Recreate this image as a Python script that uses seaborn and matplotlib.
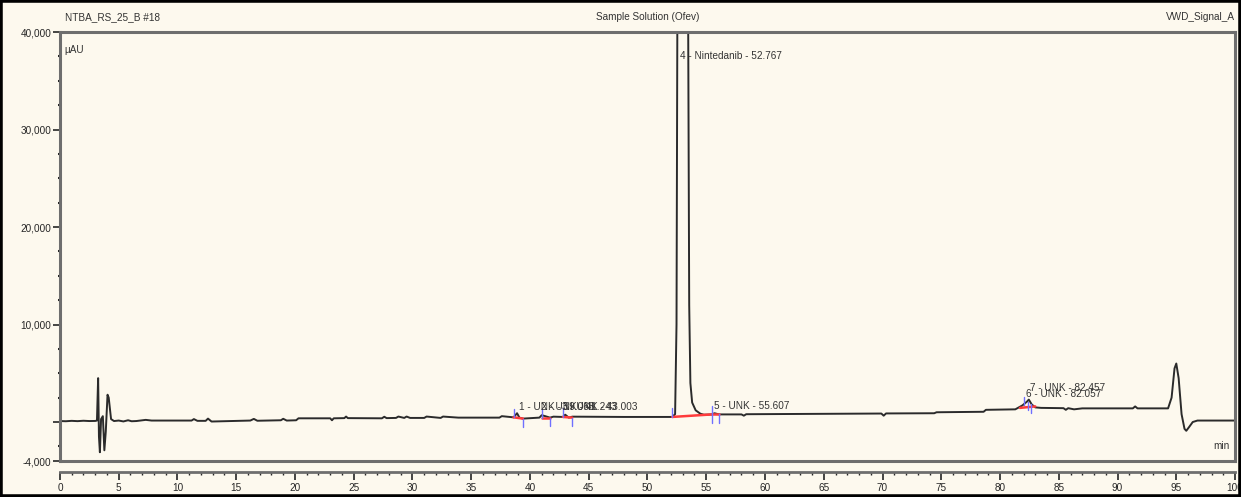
from __future__ import annotations

import matplotlib
matplotlib.use("Agg")
import numpy as np
import pandas as pd
import seaborn as sns
from matplotlib import pyplot as plt
from matplotlib.patches import Rectangle
from matplotlib.ticker import MultipleLocator


OUTPUT_PNG = "out.png"

# chromatogram trace (min, µAU)
TIME_MIN = [
    0.0, 0.5, 1.0, 1.5, 2.0, 2.5, 3.0, 3.15, 3.25, 3.32, 3.40, 3.50, 3.65, 3.78, 3.90,
    4.05, 4.15, 4.35, 4.6, 5.0, 5.4, 5.8, 6.1, 6.5, 7.3, 7.8, 9.0, 11.2, 11.4, 11.7,
    12.4, 12.6, 12.9, 16.2, 16.5, 16.8, 18.8, 19.0, 19.3, 20.1, 20.3, 23.0, 23.15, 23.3,
    24.2, 24.35, 24.5, 27.4, 27.6, 27.8, 28.6, 28.8, 29.3, 29.5, 29.8, 31.0, 31.2, 32.4,
    32.6, 33.9, 37.4, 37.6, 38.6, 38.9, 39.1, 39.4, 40.8, 41.0, 41.3, 41.7, 42.0, 42.8,
    43.0, 43.3, 43.6, 48.0, 52.1, 52.35, 52.47, 52.55, 52.62, 52.767, 53.0, 53.3, 53.45,
    53.55, 53.65, 53.8, 54.1, 54.5, 54.8, 55.5, 55.7, 56.1, 58.0, 58.2, 58.4, 62.0, 66.0,
    69.9, 70.1, 70.3, 74.4, 74.6, 78.6, 78.8, 81.3, 81.6, 81.9, 82.1, 82.3, 82.45, 82.7,
    83.0, 83.5, 85.4, 85.6, 85.8, 86.3, 87.0, 88.0, 91.3, 91.5, 91.7, 94.3, 94.6, 94.85,
    95.0, 95.2, 95.45, 95.7, 95.85, 96.1, 96.4, 96.8, 100.0,
]
SIGNAL_UAU = [
    100, 80, 120, 90, 130, 100, 110, 150, 4500, -1500, -3100, 300, 600, -2900, -1000,
    2800, 2500, 300, 100, 150, 60, 180, 80, 100, 220, 150, 150, 150, 300, 120,
    120, 350, 50, 150, 320, 130, 180, 330, 150, 180, 380, 380, 180, 380,
    400, 560, 400, 380, 540, 400, 420, 560, 420, 560, 420, 420, 560, 420,
    560, 450, 450, 600, 480, 900, 450, 350, 450, 700, 600, 450, 550, 520,
    750, 450, 550, 520, 520, 800, 10000, 45000, 90000, 120000, 90000, 45000, 45000,
    12000, 4000, 2000, 1200, 850, 750, 780, 900, 780, 780, 650, 800, 820, 850,
    870, 650, 880, 900, 1000, 1050, 1250, 1300, 1500, 1700, 1900, 2100, 2300, 1800,
    1500, 1450, 1420, 1250, 1420, 1300, 1400, 1400, 1400, 1600, 1400, 1400, 2500, 5500,
    6000, 4500, 800, -700, -900, -500, 0, 150, 150,
]

# peak labels
PEAK_LABELS = [
    "1 - UNK - 39.068", "2 - UNK - 41.243", "3 - UNK - 43.003", "4 - Nintedanib - 52.767",
    "5 - UNK - 55.607", "6 - UNK - 82.057", "7 - UNK - 82.457",
]
LABEL_TIME = [39.1, 40.9, 42.7, 52.8, 55.65, 82.2, 82.55]
LABEL_SIGNAL = [1500, 1500, 1500, 37500, 1600, 2900, 3500]

# integration baselines (red) and peak delimiters (blue)
BASE_START = [38.6, 41.0, 42.8, 52.1, 55.5, 81.7]
BASE_END = [39.4, 41.7, 43.6, 55.5, 56.1, 83.0]
BASE_START_Y = [480, 450, 520, 520, 780, 1450]
BASE_END_Y = [350, 450, 450, 780, 780, 1600]
DELIM_TIME = [38.6, 39.4, 41.0, 41.7, 42.8, 43.6, 52.1, 55.5, 55.5, 56.1, 82.0, 82.4, 82.6]
DELIM_Y = [480, 350, 450, 450, 520, 450, 520, 780, 780, 780, 1700, 2100, 1800]
DELIM_DIR = [1, -1, 1, -1, 1, -1, 1, 1, -1, -1, 1, -1, -1]

Y_TICKS = [-4000, 0, 10000, 20000, 30000, 40000]
Y_TICK_LABELS = ["-4,000", "", "10,000", "20,000", "30,000", "40,000"]
X_TICKS = list(range(0, 101, 5))


def draw_chromatogram(ax: plt.Axes) -> None:
    trace = pd.DataFrame({"time": TIME_MIN, "signal": SIGNAL_UAU})
    sns.lineplot(data=trace, x="time", y="signal", color="#2b2b2b", linewidth=1.4,
                 estimator=None, sort=False, ax=ax)

    for x0, x1, y0, y1 in zip(BASE_START, BASE_END, BASE_START_Y, BASE_END_Y):
        ax.plot([x0, x1], [y0, y1], color="#ff3b3b", linewidth=1.8, zorder=3)

    for t, y, d in zip(DELIM_TIME, DELIM_Y, DELIM_DIR):
        ax.plot([t, t], [y, y + d * 900], color="#7070ff", linewidth=1.0, zorder=4)

    for label, t, y in zip(PEAK_LABELS, LABEL_TIME, LABEL_SIGNAL):
        ax.text(t, y, label, fontsize=7.2, color="#333333", ha="left", va="center", zorder=5)


def style_axes(fig: plt.Figure, ax: plt.Axes) -> None:
    ax.set_xlim(0, 100)
    ax.set_ylim(-4000, 40000)
    ax.set_xlabel("")
    ax.set_ylabel("")
    ax.set_facecolor("#fdf9ee")

    for spine in ax.spines.values():
        spine.set_visible(True)
        spine.set_color("#6e6e6e")
        spine.set_linewidth(2.2)

    ax.set_yticks(Y_TICKS)
    ax.set_yticklabels(Y_TICK_LABELS)
    ax.yaxis.set_minor_locator(MultipleLocator(2500))
    ax.tick_params(axis="y", which="major", direction="out", length=5, width=1.2,
                   labelsize=7.2, pad=1, left=True)
    ax.tick_params(axis="y", which="minor", direction="out", length=1.5, width=1.5, left=True)
    ax.tick_params(axis="x", which="both", bottom=False, labelbottom=False)

    ruler = ax.secondary_xaxis(-0.026)
    ruler.set_xticks(X_TICKS)
    ruler.xaxis.set_minor_locator(MultipleLocator(1))
    ruler.spines["bottom"].set_color("#6e6e6e")
    ruler.spines["bottom"].set_linewidth(2.0)
    ruler.tick_params(axis="x", which="major", direction="out", length=6, width=1.2,
                      labelsize=7.2, pad=2)
    ruler.tick_params(axis="x", which="minor", direction="out", length=2.5, width=1.0)

    ax.text(0.004, 1.035, "NTBA_RS_25_B #18", transform=ax.transAxes, fontsize=7.2,
            ha="left", va="center", color="#333333")
    ax.text(0.5, 1.035, "Sample Solution (Ofev)", transform=ax.transAxes, fontsize=7.2,
            ha="center", va="center", color="#333333")
    ax.text(1.0, 1.035, "VWD_Signal_A", transform=ax.transAxes, fontsize=7.2,
            ha="right", va="center", color="#333333")
    ax.text(0.004, 0.958, "µAU", transform=ax.transAxes, fontsize=7.2,
            ha="left", va="center", color="#333333")
    ax.text(0.995, 0.035, "min", transform=ax.transAxes, fontsize=7.2,
            ha="right", va="center", color="#333333")

    fig.patches.append(Rectangle((0, 0), 1, 1, transform=fig.transFigure, fill=False,
                                 edgecolor="black", linewidth=4, zorder=10))


def main() -> None:
    sns.set_theme(style="white")
    plt.rcParams["font.family"] = ["Liberation Sans Narrow", "Liberation Sans", "DejaVu Sans"]

    fig = plt.figure(figsize=(12.41, 4.97), dpi=100)
    fig.patch.set_facecolor("#fdf9ee")
    ax = fig.add_axes([0.0483, 0.0724, 0.9469, 0.8632])

    draw_chromatogram(ax)
    style_axes(fig, ax)

    fig.savefig(OUTPUT_PNG, dpi=100)
    plt.close(fig)


if __name__ == "__main__":
    main()
